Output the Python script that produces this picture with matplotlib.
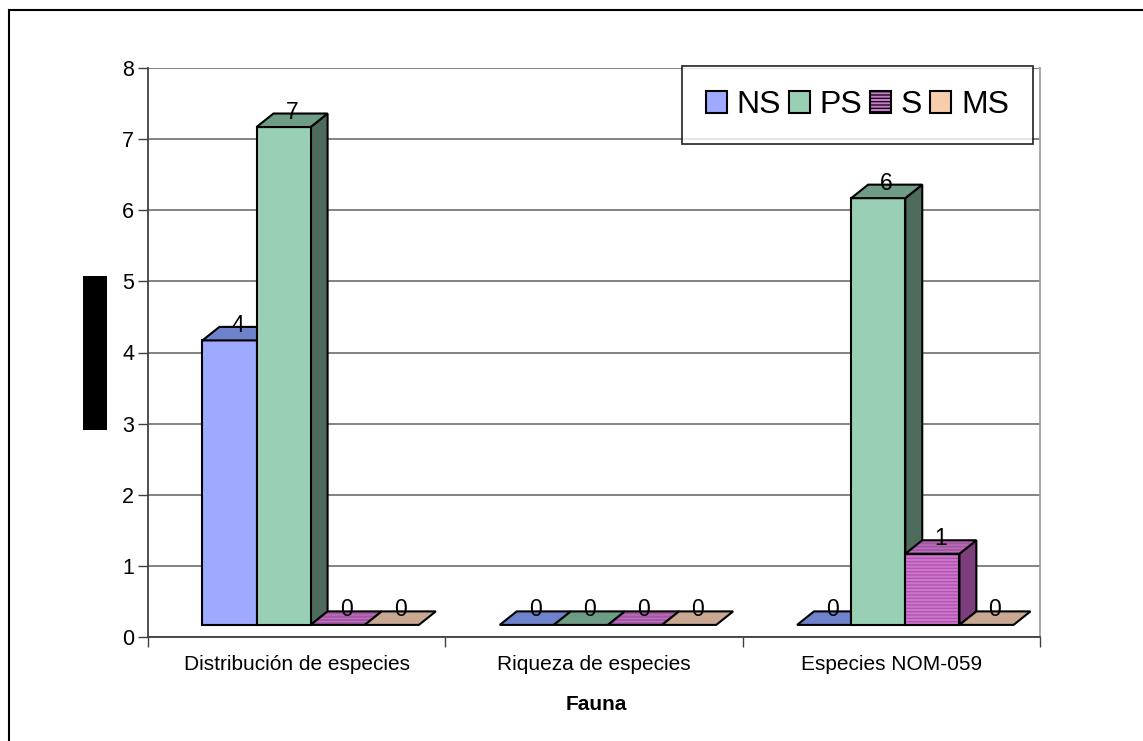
import matplotlib.pyplot as plt
from matplotlib.patches import Polygon, Rectangle

# Data
categories = ["Distribución de especies", "Riqueza de especies", "Especies NOM-059"]
series = ["NS", "PS", "S", "MS"]
ns_vals = [4, 0, 0]
ps_vals = [7, 0, 6]
s_vals = [0, 0, 1]
ms_vals = [0, 0, 0]
y_ticks = [0, 1, 2, 3, 4, 5, 6, 7, 8]
x_title = "Fauna"

values = [ns_vals, ps_vals, s_vals, ms_vals]

# Face colours per series: front, top, side
front_col = ["#9DAAFF", "#99CFB5", "#CC77CC", "#F7CDAE"]
top_col = ["#6F82CC", "#6E9C84", "#A257A2", "#C8A892"]
side_col = ["#55619A", "#4F6B5B", "#7C3F7C", "#9A8070"]
hatches = [None, None, "-----", None]
hatch_col = [None, None, "#B050B0", None]

plt.rcParams["font.family"] = ["Liberation Sans", "DejaVu Sans"]
plt.rcParams["hatch.linewidth"] = 0.9

W, H = 1143, 741
fig = plt.figure(figsize=(W / 100, H / 100), dpi=100)
fig.patch.set_facecolor("white")

# pseudo-3D geometry in data units
BAR_W = 0.182
DX = 0.057
DY = 0.19
BASE = 0.17
OFFSET = 0.047

ax = fig.add_axes([148 / W, (H - 637) / H, (1040 - 148) / W, (637 - 68) / H])
ax.set_xlim(0, 3)
ax.set_ylim(0, 8)


def poly(pts, fc, z, hatch=None, hc=None):
    if hatch:
        ax.add_patch(Polygon(pts, closed=True, facecolor=fc, edgecolor=hc,
                             hatch=hatch, linewidth=0, zorder=z))
        ax.add_patch(Polygon(pts, closed=True, fill=False, edgecolor="black",
                             linewidth=1.5, joinstyle="miter", zorder=z))
    else:
        ax.add_patch(Polygon(pts, closed=True, facecolor=fc, edgecolor="black",
                             linewidth=1.5, joinstyle="miter", zorder=z))


def draw_bar(x0, v, k, z):
    x1 = x0 + BAR_W
    y0 = BASE
    y1 = BASE + v
    if v > 0:
        poly([(x1, y0), (x1 + DX, y0 + DY), (x1 + DX, y1 + DY), (x1, y1)],
             side_col[k], z)
        poly([(x0, y0), (x1, y0), (x1, y1), (x0, y1)],
             front_col[k], z + 0.1, hatches[k], hatch_col[k])
    poly([(x0, y1), (x1, y1), (x1 + DX, y1 + DY), (x0 + DX, y1 + DY)],
         top_col[k], z + 0.2, hatches[k], "#C070C0" if hatches[k] else None)
    ax.text(x0 + BAR_W / 2 + DX / 2, y1 + DY + 0.02, str(v),
            ha="center", va="center", fontsize=16.5, zorder=z + 0.3)


z = 3
for i in range(len(categories)):
    start = i + 0.5 - 2 * BAR_W + OFFSET
    for k in range(len(series)):
        draw_bar(start + k * BAR_W, values[k][i], k, z)
        z += 1

# axes styling
ax.set_yticks(y_ticks)
ax.set_yticklabels([str(t) for t in y_ticks], fontsize=15.5)
ax.yaxis.grid(True, color="#7A7A7A", linewidth=1.3)
ax.set_axisbelow(True)
ax.tick_params(axis="y", direction="out", length=7, width=1, pad=3, colors="#404040",
               labelcolor="black")

ax.set_xticks([0, 1, 2, 3])
ax.set_xticklabels([])
ax.set_xticks([0.5, 1.5, 2.5], minor=True)
ax.set_xticklabels(categories, minor=True, fontsize=15)
ax.tick_params(axis="x", which="major", direction="out", length=7, width=1, colors="#404040")
ax.tick_params(axis="x", which="minor", length=0, pad=13)

for side in ["left", "bottom"]:
    ax.spines[side].set_color("#404040")
    ax.spines[side].set_linewidth(1.3)
ax.spines["right"].set_color("#A0A0A0")
ax.spines["right"].set_linewidth(1.3)
ax.spines["top"].set_visible(False)

fig.text(596 / W, 1 - 704 / H, x_title, ha="center", va="center",
         fontsize=15, fontweight="bold")

# legend
handles = [Rectangle((0, 0), 1, 1, facecolor=front_col[k], edgecolor="black",
                     linewidth=1.5, hatch=hatches[k]) for k in range(len(series))]
leg = fig.legend(handles, series, loc="upper right",
                 bbox_to_anchor=(1033 / W, 1 - 66 / H), bbox_transform=fig.transFigure,
                 ncol=4, fontsize=23, frameon=True, fancybox=False,
                 handlelength=0.66, handleheight=0.66, handletextpad=0.3,
                 columnspacing=0.25, borderpad=0.75, borderaxespad=0)
leg.get_frame().set_edgecolor("black")
leg.get_frame().set_linewidth(1.3)

# filled block for the vertical axis title
fig.patches.append(Rectangle((83 / W, 1 - 430 / H), 24 / W, 154 / H,
                             transform=fig.transFigure, facecolor="black",
                             edgecolor="none"))

# outer chart border
fig.patches.append(Rectangle((9 / W, -0.05), 1.2, 1 - 10 / H + 0.05,
                             transform=fig.transFigure, fill=False,
                             edgecolor="black", linewidth=1.5))

fig.savefig("out.png", dpi=100)
